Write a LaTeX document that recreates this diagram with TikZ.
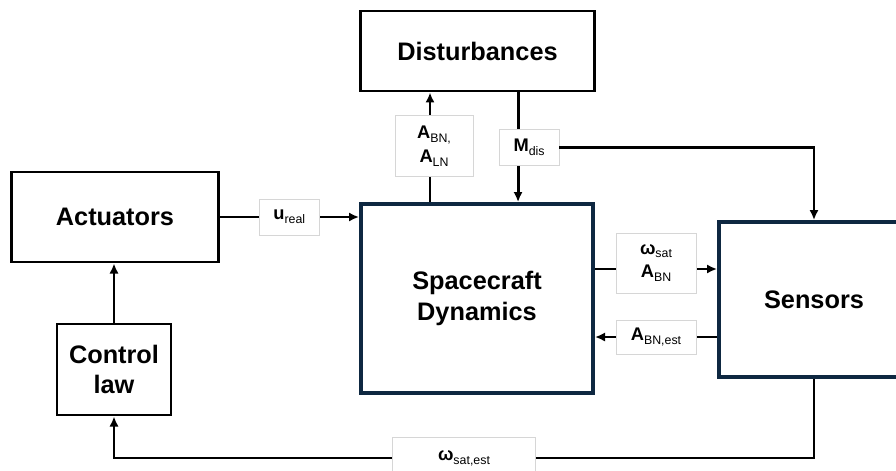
\documentclass[tikz,border=0pt]{standalone}
\usepackage{fontspec}
\setmainfont{Liberation Sans}
\usetikzlibrary{arrows.meta,positioning,calc}
\definecolor{navy}{HTML}{0E2841}
\definecolor{lgray}{RGB}{214,214,214}
\newcommand{\sym}[2]{\textbf{#1}\raisebox{-0.4ex}{\fontsize{8.8}{10}\selectfont #2}}

\begin{document}
\begin{tikzpicture}[x=0.025cm,y=-0.025cm,>={Latex[length=2.5mm,width=2.3mm]},
  blk/.style={draw,line width=2.1pt,align=center,font=\fontsize{18}{21.5}\selectfont\bfseries},
  lbl/.style={draw=lgray,fill=white,line width=0.6pt,align=center,inner sep=2pt,font=\fontsize{13}{15}\selectfont},
  link/.style={->,line width=2.1pt}]
\useasboundingbox (0,0) rectangle (896,470);
% blocks
\node[blk,minimum width=5.825cm,minimum height=2cm] (dist) at (477.5,51) {Disturbances};
\node[blk,minimum width=5.15cm,minimum height=2.25cm] (act) at (115,217) {Actuators};
\node[blk,draw=navy,line width=2.8pt,minimum width=5.8cm,minimum height=4.725cm] (sc) at (477,298.5) {Spacecraft\\Dynamics};
\node[blk,draw=navy,line width=2.8pt,minimum width=4.75cm,minimum height=3.875cm] (sens) at (814,299.5) {Sensors};
\node[blk,minimum width=2.85cm,minimum height=2.275cm] (ctl) at (114,369.5) {Control\\law};
% signals
\draw[link] (act.east) -- node[lbl,pos=0.5,minimum width=1.5cm,minimum height=0.9cm] (ureal) {\sym{u}{real}} (act.east -| sc.west);
\draw[link] ([xshift=1.775cm]sc.north west) -- node[lbl,pos=0.51,xshift=0.1cm,minimum width=1.95cm,minimum height=1.525cm] (att) {\sym{A}{BN,}\\[2pt]\sym{A}{LN}} ([xshift=1.775cm]sc.north west |- dist.south);
\draw[link] ([xshift=3.975cm]sc.north west |- dist.south) -- node[lbl,pos=0.5,xshift=0.275cm,minimum width=1.5cm,minimum height=0.9cm] (mdis) {\sym{M}{dis}} ([xshift=3.975cm]sc.north west);
\draw[link] (mdis.east) -| (sens.north);
\draw[link] ([yshift=0.7375cm]sc.east) -- node[lbl,yshift=0.15cm,minimum width=2cm,minimum height=1.5cm] (meas) {\sym{ω}{sat}\\[2pt]\sym{A}{BN}} ([yshift=0.7375cm]sc.east -| sens.west);
\draw[link] ([yshift=-0.9375cm]sens.west) -- node[lbl,minimum width=2cm,minimum height=0.85cm] (est) {\sym{A}{BN,est}} ([yshift=-0.9375cm]sens.west -| sc.east);
\draw[link] (sens.south) -- ++(0,79) -| node[lbl,pos=0.25,minimum width=3.575cm,minimum height=1.05cm] (west) {\sym{ω}{sat,est}} (ctl.south);
\draw[link] (ctl.north) -- (ctl.north |- act.south);
\end{tikzpicture}
\end{document}
